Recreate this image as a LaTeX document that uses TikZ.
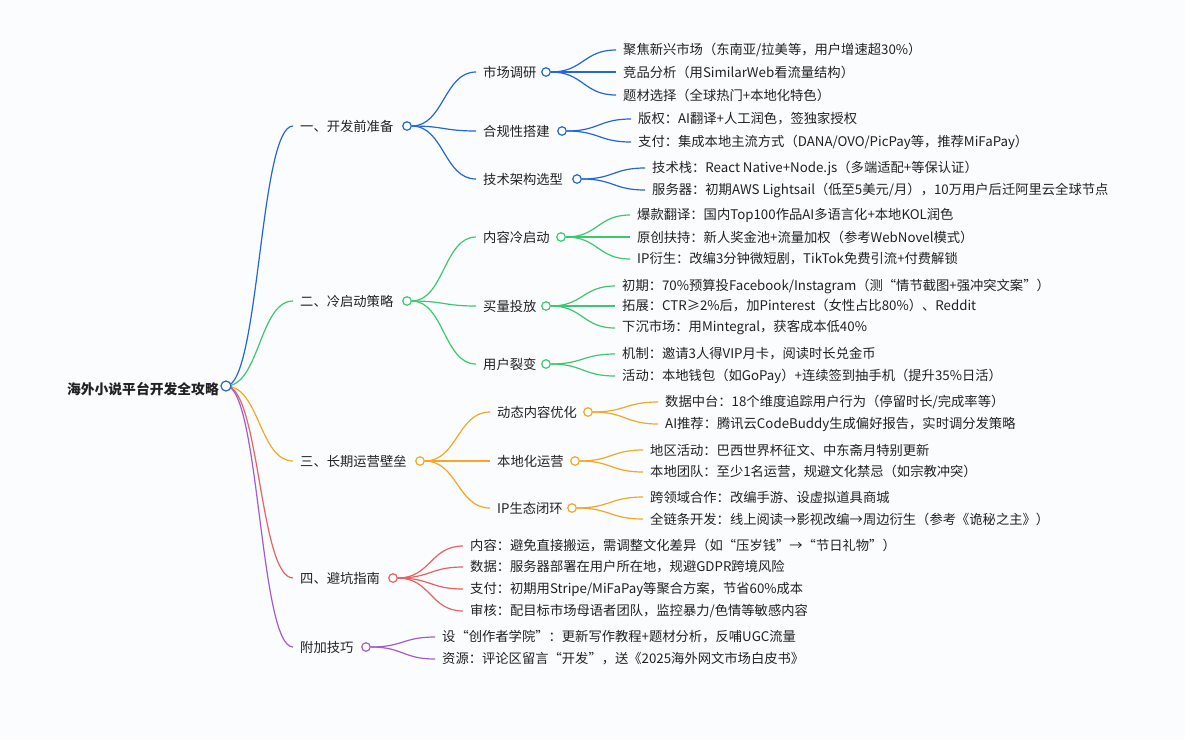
\documentclass[tikz,border=0pt]{standalone}
\usepackage{fontspec}
\setmainfont{Noto Sans CJK SC}
\usetikzlibrary{calc}
\definecolor{cA}{HTML}{2266DD}
\definecolor{cB}{HTML}{3CC86E}
\definecolor{cC}{HTML}{F5A623}
\definecolor{cD}{HTML}{EE5F5F}
\definecolor{cE}{HTML}{A25BD6}
\definecolor{tx}{HTML}{222222}
\definecolor{bg}{HTML}{FBFCFD}
\tikzset{
  txt/.style={anchor=west,inner sep=0pt,text=tx,font=\fontsize{13.3}{15}\selectfont},
  dot/.style={circle,draw=#1,fill=white,line width=1.2pt,minimum size=8.5pt,inner sep=0pt},
  lk/.style={draw=#1,line width=1.2pt},
}
\newcommand\mmedge[3]{\path[lk=#3] let \p1=(#1), \p2=(#2) in (\p1) .. controls ({(\x1+\x2)/2},\y1) and ({(\x1+\x2)/2},\y2) .. (\p2);}
\newcommand\mmleaf[6]{\node[txt] (#2) at (#3,#4) {#6};\mmedge{#1}{[xshift=-7pt]#2.west}{#5}}
\newcommand\mmmid[7]{\node[txt] (#2) at (#3,#4) {#7};\mmedge{#1}{[xshift=-7pt]#2.west}{#6}\node[dot=#6] (#2c) at (#5,#4) {};}
\begin{document}
\begin{tikzpicture}[x=1pt,y=-1pt]
\useasboundingbox[fill=bg] (0,0) rectangle (1185,740);
\node[txt,anchor=east,font=\fontsize{13.8}{15}\selectfont\bfseries] (root) at (219,389) {海外小说平台开发全攻略};
\coordinate (r0) at (226,386);
% A
\mmmid{r0}{A}{300}{126}{407}{cA}{一、开发前准备}
\mmmid{Ac.east}{A1}{483}{72}{546}{cA}{市场调研}
\mmleaf{A1c.east}{a11}{623}{50}{cA}{聚焦新兴市场（东南亚/拉美等，用户增速超30\%）}
\mmleaf{A1c.east}{a12}{623}{72}{cA}{竞品分析（用SimilarWeb看流量结构）}
\mmleaf{A1c.east}{a13}{623}{95}{cA}{题材选择（全球热门+本地化特色）}
\mmmid{Ac.east}{A2}{483}{131}{562}{cA}{合规性搭建}
\mmleaf{A2c.east}{a21}{638}{119}{cA}{版权：AI翻译+人工润色，签独家授权}
\mmleaf{A2c.east}{a22}{638}{142}{cA}{支付：集成本地主流方式（DANA/OVO/PicPay等，推荐MiFaPay）}
\mmmid{Ac.east}{A3}{483}{179}{577}{cA}{技术架构选型}
\mmleaf{A3c.east}{a31}{652}{168}{cA}{技术栈：React Native+Node.js（多端适配+等保认证）}
\mmleaf{A3c.east}{a32}{652}{190}{cA}{服务器：初期AWS Lightsail（低至5美元/月），10万用户后迁阿里云全球节点}
% B
\mmmid{r0}{B}{300}{301}{407}{cB}{二、冷启动策略}
\mmmid{Bc.east}{B1}{483}{237}{561}{cB}{内容冷启动}
\mmleaf{B1c.east}{b11}{637}{215}{cB}{爆款翻译：国内Top100作品AI多语言化+本地KOL润色}
\mmleaf{B1c.east}{b12}{637}{237}{cB}{原创扶持：新人奖金池+流量加权（参考WebNovel模式）}
\mmleaf{B1c.east}{b13}{637}{259}{cB}{IP衍生：改编3分钟微短剧，TikTok免费引流+付费解锁}
\mmmid{Bc.east}{B2}{483}{306}{546}{cB}{买量投放}
\mmleaf{B2c.east}{b21}{622}{286}{cB}{初期：70\%预算投Facebook/Instagram（测“情节截图+强冲突文案”）}
\mmleaf{B2c.east}{b22}{622}{306}{cB}{拓展：CTR≥2\%后，加Pinterest（女性占比80\%）、Reddit}
\mmleaf{B2c.east}{b23}{622}{328}{cB}{下沉市场：用Mintegral，获客成本低40\%}
\mmmid{Bc.east}{B3}{483}{364}{546}{cB}{用户裂变}
\mmleaf{B3c.east}{b31}{622}{354}{cB}{机制：邀请3人得VIP月卡，阅读时长兑金币}
\mmleaf{B3c.east}{b32}{622}{376}{cB}{活动：本地钱包（如GoPay）+连续签到抽手机（提升35\%日活）}
% C
\mmmid{r0}{C}{300}{461}{420}{cC}{三、长期运营壁垒}
\mmmid{Cc.east}{C1}{497}{412}{588}{cC}{动态内容优化}
\mmleaf{C1c.east}{c11}{665}{402}{cC}{数据中台：18个维度追踪用户行为（停留时长/完成率等）}
\mmleaf{C1c.east}{c12}{665}{424}{cC}{AI推荐：腾讯云CodeBuddy生成偏好报告，实时调分发策略}
\mmmid{Cc.east}{C2}{497}{461}{575}{cC}{本地化运营}
\mmleaf{C2c.east}{c21}{650}{450}{cC}{地区活动：巴西世界杯征文、中东斋月特别更新}
\mmleaf{C2c.east}{c22}{650}{472}{cC}{本地团队：至少1名运营，规避文化禁忌（如宗教冲突）}
\mmmid{Cc.east}{C3}{497}{508}{572}{cC}{IP生态闭环}
\mmleaf{C3c.east}{c31}{650}{497}{cC}{跨领域合作：改编手游、设虚拟道具商城}
\mmleaf{C3c.east}{c32}{650}{519}{cC}{全链条开发：线上阅读→影视改编→周边衍生（参考《诡秘之主》）}
% D
\mmmid{r0}{D}{300}{578}{393}{cD}{四、避坑指南}
\mmleaf{Dc.east}{d1}{470}{546}{cD}{内容：避免直接搬运，需调整文化差异（如“压岁钱”→“节日礼物”）}
\mmleaf{Dc.east}{d2}{470}{567}{cD}{数据：服务器部署在用户所在地，规避GDPR跨境风险}
\mmleaf{Dc.east}{d3}{470}{589}{cD}{支付：初期用Stripe/MiFaPay等聚合方案，节省60\%成本}
\mmleaf{Dc.east}{d4}{470}{611}{cD}{审核：配目标市场母语者团队，监控暴力/色情等敏感内容}
% E
\mmmid{r0}{E}{300}{647}{366}{cE}{附加技巧}
\mmleaf{Ec.east}{e1}{442}{637}{cE}{设“创作者学院”：更新写作教程+题材分析，反哺UGC流量}
\mmleaf{Ec.east}{e2}{442}{659}{cE}{资源：评论区留言“开发”，送《2025海外网文市场白皮书》}
\node[dot=cA,minimum size=10pt] (rootc) at (r0) {};
\end{tikzpicture}
\end{document}
